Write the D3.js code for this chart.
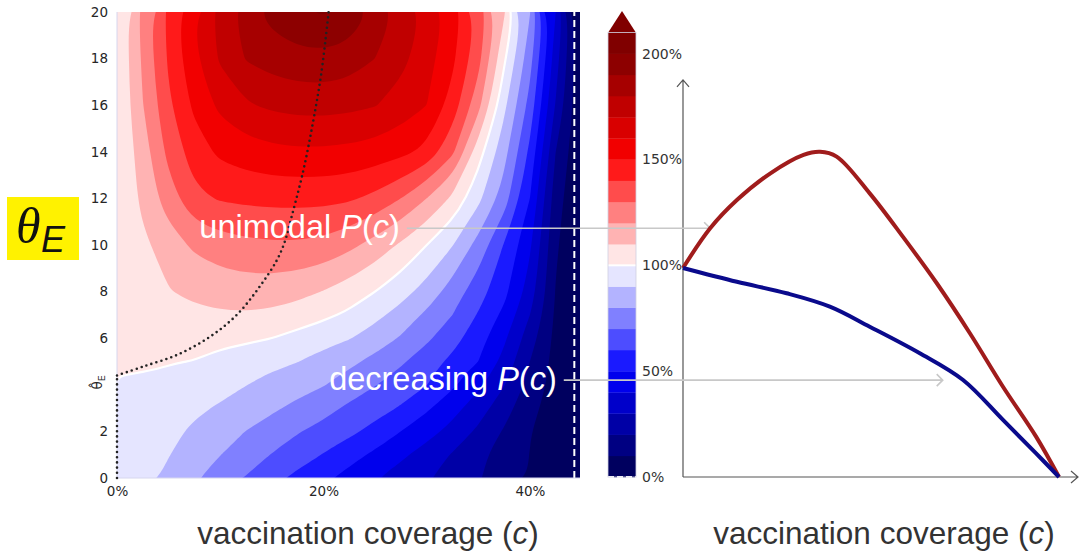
<!DOCTYPE html>
<html>
  <head>
    <meta charset="utf-8">
    <title>P(c) over coverage and theta_E</title>
    <style>
      body { margin: 0; background: #fff; }
      svg { display: block; }
    </style>
  </head>
  <body>
    <script src="https://d3js.org/d3.v7.min.js"></script>
    <svg id="chart" width="1079" height="551"></svg>
    <script>
      // ---- values ----
      // grid columns: vaccination coverage c (%)
      const coverage = [0, 2.5, 5, 7.5, 10, 12.5, 15, 17.5, 20, 22.5, 25, 27.5, 30, 32.5, 35, 37.5, 40, 42.5, 45]
      // grid rows: theta_E
      const thetaRows = [0, 1, 2, 3, 4, 4.4, 5, 6, 7, 8, 10, 12, 14, 16, 18, 20]

      // P(c) / P(0) in %, one row per theta_E
      const p_t0   = [100, 93.8, 87.5, 81.3, 75.2, 69.3, 63.2, 57.4, 52.1, 46.5, 40.7, 35.8, 31.1, 26, 20.8, 15.1, 9.3, 4.7, 0]
      const p_t1   = [100, 95.2, 90.4, 85.3, 80.2, 75.1, 69.6, 64.6, 59.5, 53.9, 48, 42, 35.6, 29.2, 22.4, 16, 9.8, 4.1, 0]
      const p_t2   = [100, 96.2, 92.4, 88.4, 84.1, 79.8, 75.3, 70.7, 66.4, 62.2, 56.8, 50, 43.8, 36.7, 28.1, 19, 10.5, 4.4, 0]
      const p_t3   = [100, 97.3, 94.6, 91.8, 88.9, 85.3, 81.7, 77.5, 73.5, 68.1, 63.8, 59.1, 51.5, 43.5, 34.6, 24.1, 13, 5, 0]
      const p_t4   = [100, 99.5, 98, 95.9, 93.3, 90.2, 87, 83.8, 80.5, 75.6, 70.4, 65.3, 60.2, 51.7, 42, 30.5, 16.3, 5.8, 0]
      const p_t4h  = [100, 99.9, 99, 97.5, 94.8, 92, 89.2, 86.4, 82.8, 78.2, 73.1, 67.7, 62, 54, 45.2, 33, 17.8, 6, 0]
      const p_t5   = [100, 100.4, 100.4, 99.8, 97, 94.8, 92.5, 90.2, 86.3, 82.2, 77.2, 71.4, 64.7, 57.6, 50, 36.9, 20, 6.4, 0]
      const p_t6   = [100, 101.5, 102.5, 103, 102.8, 101.7, 100, 96.8, 93.7, 90.5, 85.1, 79.1, 71.8, 63.7, 54.2, 41.7, 24.6, 7.2, 0]
      const p_t7   = [100, 103, 105.8, 107.8, 108.8, 109, 107.9, 105.5, 102, 98.3, 92.8, 86.1, 78.1, 70, 59.1, 47.5, 30, 8.2, 0]
      const p_t8   = [100, 105, 109.5, 112.3, 114, 114.9, 114.8, 112.9, 109.6, 105, 100, 93.9, 86.1, 75.4, 64.5, 52.9, 35.5, 9.5, 0]
      const p_t10  = [100, 107.8, 115, 121.8, 125.5, 127.6, 128.5, 128.5, 127, 122.5, 116, 108.5, 100, 90.4, 76.3, 59.3, 41.5, 11.4, 0]
      const p_t12  = [100, 112.5, 125.2, 137.4, 141, 142.2, 142.8, 143, 142.8, 141.5, 137.3, 130, 120, 108, 92.7, 75, 50, 14.3, 0]
      const p_t14  = [100, 115.2, 132.8, 145.1, 152.1, 155.3, 157.4, 158.4, 158.3, 157.4, 155.6, 152.9, 147.2, 132, 104.3, 83.6, 57.5, 20, 0]
      const p_t16  = [100, 119.7, 138.1, 152.2, 162.5, 168.8, 171.9, 173.3, 173.5, 172.6, 170.5, 165.6, 160, 145.7, 123.3, 92.5, 66.3, 29.2, 0]
      const p_t18  = [100, 121.8, 141.5, 158.3, 171.5, 180.7, 184.5, 186.7, 187.3, 185.2, 180, 173.1, 164.2, 152.1, 133.6, 101.7, 73.8, 34.5, 0]
      const p_t20  = [100, 123.4, 142.7, 159.7, 173.6, 185.1, 193.9, 199, 201, 198, 187.8, 177.4, 167.8, 155.6, 137.3, 111.3, 80.6, 40, 0]
      const pRows = [p_t0, p_t1, p_t2, p_t3, p_t4, p_t4h, p_t5, p_t6, p_t7, p_t8, p_t10, p_t12, p_t14, p_t16, p_t18, p_t20]

      const levels = d3.range(0, 220, 10)
      const thetaTicks = [0, 2, 6, 8, 10, 12, 14, 16, 18, 20]
      const coverageTicks = [0, 20, 40]
      const colorbarTicks = [0, 50, 100, 150, 200]
      const thetaHat = 4.4
      const cStar = 44.3

      // location of the maximum of P(c), [c, theta_E]
      const argmaxCurve = [[0, 4.4], [2.5, 4.78], [5.8, 5.28], [9, 6.06], [11.6, 7.0], [13.8, 8.2], [15.5, 9.36],
                           [16.3, 10.2], [16.7, 10.86], [18, 13.1], [19, 15.3], [19.8, 17.4], [20.5, 20]]

      // sketch on the right, [c, P %]
      const unimodalCurve = [[0, 100], [3.2, 119], [6.35, 132.5], [10.3, 145.3], [14.2, 154.1], [16.15, 155.6], [18.1, 153.3],
                             [22, 135.7], [25.9, 115], [29.9, 92.7], [33.8, 68.8], [37.7, 43.2], [41.6, 19.3], [44.3, 0]]
      const decreasingCurve = [[0, 100], [6.35, 93.4], [12.2, 87.9], [17.3, 81.5], [22, 71.9], [27.9, 59.2], [33, 46.4],
                               [37.7, 27.3], [41.6, 11.3], [44.3, 0]]

      // ---- drawing ----
      const svg = d3.select('#chart')
      const sans = '"Liberation Sans", Arial, sans-serif'
      const tickFont = '"DejaVu Sans", sans-serif'

      const x = d3.scaleLinear([0, 44.85], [117, 580])
      const y = d3.scaleLinear([0, 20], [478, 12])
      const seismic = d3.scaleLinear([0, 0.25, 0.5, 0.75, 1], ['#00004d', '#0000ff', '#ffffff', '#ff0000', '#800000']).clamp(true)
      const bandColor = lo => seismic((lo + 5) / 200)

      const defs = svg.append('defs')
      defs.append('clipPath').attr('id', 'plot-clip')
        .append('rect')
          .attr('x', x(0)).attr('y', y(20))
          .attr('width', x(44.85) - x(0)).attr('height', y(0) - y(20))
      defs.append('clipPath').attr('id', 'line-clip')
        .append('rect')
          .attr('x', x(0) + 1.5).attr('y', y(20))
          .attr('width', x(44.85) - x(0)).attr('height', y(0) - y(20))

      // filled contours
      const nx = coverage.length, ny = thetaRows.length
      const contours = d3.contours().size([nx, ny]).thresholds(levels)(pRows.flat())
      const gx = d3.scaleLinear([0.5, nx - 0.5], [coverage[0], coverage[nx - 1]])
      const gy = d3.scaleLinear(thetaRows.map((t, i) => i + 0.5), thetaRows)
      const ring = d3.line().curve(d3.curveBasisClosed)
      const toPath = geo => geo.coordinates.map(poly => poly.map(r =>
        ring(r.slice(0, -1).map(([a, b]) => [x(gx(a)), y(gy(b))]))).join('')).join('')

      const field = svg.append('g').attr('clip-path', 'url(#plot-clip)')
      field.selectAll('path')
        .data(contours)
        .join('path')
          .attr('d', toPath)
          .attr('fill', d => bandColor(d.value))
          .attr('fill-rule', 'evenodd')

      // P = 100% contour
      svg.append('g').attr('clip-path', 'url(#line-clip)')
        .append('path')
          .attr('d', toPath(contours.find(d => d.value === 100)))
          .attr('fill', 'none')
          .attr('stroke', '#fff')
          .attr('stroke-width', 2.2)

      // c* dashed line
      svg.append('line')
        .attr('x1', x(cStar)).attr('x2', x(cStar))
        .attr('y1', y(0)).attr('y2', y(20))
        .attr('stroke', '#fff').attr('stroke-width', 2)
        .attr('stroke-dasharray', '7 4')

      svg.append('path')
        .attr('d', `M${x(0)},${y(20)}V${y(0)}H${x(44.85)}`)
        .attr('fill', 'none').attr('stroke', '#d6d6ee').attr('stroke-width', 1)

      // dotted argmax line and theta hat
      const dotted = g => g.attr('fill', 'none').attr('stroke', '#222').attr('stroke-width', 2.6)
        .attr('stroke-linecap', 'round').attr('stroke-dasharray', '0 5.2')
      svg.append('path')
        .attr('d', d3.line()([[x(0), y(0)], [x(0), y(thetaHat)]]))
        .call(dotted)
      svg.append('path')
        .attr('d', d3.line().x(d => x(d[0])).y(d => y(d[1])).curve(d3.curveCatmullRom.alpha(0.5))(argmaxCurve))
        .call(dotted)

      // axes of the left panel
      const yAxis = svg.append('g')
        .attr('transform', `translate(${x(0)},0)`)
        .call(d3.axisLeft(y).tickValues(thetaTicks).tickSize(0).tickPadding(9))
      yAxis.select('.domain').remove()
      yAxis.attr('font-size', 13.5).attr('font-family', tickFont).attr('color', '#262626')

      const xAxis = svg.append('g')
        .attr('transform', `translate(0,${y(0)})`)
        .call(d3.axisBottom(x).tickValues(coverageTicks).tickFormat(d => d + '%').tickSize(0).tickPadding(8))
      xAxis.select('.domain').remove()
      xAxis.attr('font-size', 13.5).attr('font-family', tickFont).attr('color', '#262626')

      const hat = svg.append('text')
        .attr('transform', `translate(${x(0) - 15},${y(thetaHat) + 7}) rotate(-90)`)
        .attr('text-anchor', 'middle')
        .attr('font-family', tickFont).attr('font-size', 13.5).attr('fill', '#262626')
      hat.append('tspan').text('\u03b8\u0302')
      hat.append('tspan').text('E').attr('font-size', 9.5).attr('dy', 3)

      // theta_E badge
      svg.append('rect').attr('x', 7).attr('y', 197).attr('width', 72).attr('height', 63).attr('fill', '#fff200')
      svg.append('text').text('\u03b8')
        .attr('x', 16).attr('y', 243)
        .attr('font-family', '"Liberation Serif", serif').attr('font-style', 'italic')
        .attr('font-size', 50).attr('fill', '#111')
      svg.append('text').text('E')
        .attr('x', 41).attr('y', 252)
        .attr('font-family', sans).attr('font-style', 'italic')
        .attr('font-size', 36).attr('fill', '#111')

      // colorbar
      const yCb = d3.scaleLinear([0, 210], [477, 32.5])
      const cbX = 608, cbW = 28
      const cb = svg.append('g')
      cb.selectAll('rect')
        .data(levels.slice(0, -1))
        .join('rect')
          .attr('x', cbX).attr('width', cbW)
          .attr('y', d => yCb(d + 10)).attr('height', d => yCb(d) - yCb(d + 10) + 0.3)
          .attr('fill', d => bandColor(d))
      cb.append('path')
        .attr('d', `M${cbX},${yCb(210) + 0.3}L${cbX + cbW / 2},${yCb(210) - 21.5}L${cbX + cbW},${yCb(210) + 0.3}Z`)
        .attr('fill', bandColor(210))
      cb.append('line')
        .attr('x1', cbX).attr('x2', cbX + cbW).attr('y1', yCb(100)).attr('y2', yCb(100))
        .attr('stroke', '#fff').attr('stroke-width', 2)
      cb.append('line')
        .attr('x1', cbX).attr('x2', cbX + cbW).attr('y1', yCb(0)).attr('y2', yCb(0))
        .attr('stroke', '#fff').attr('stroke-width', 2).attr('stroke-dasharray', '6 3')
      cb.append('rect')
        .attr('x', cbX).attr('y', yCb(210)).attr('width', cbW).attr('height', yCb(0) - yCb(210))
        .attr('fill', 'none').attr('stroke', '#d0d0e0').attr('stroke-width', 0.8)
      const cbAxis = svg.append('g')
        .attr('transform', `translate(${cbX + cbW},0)`)
        .call(d3.axisRight(yCb).tickValues(colorbarTicks).tickFormat(d => d + '%').tickSize(0).tickPadding(6))
      cbAxis.select('.domain').remove()
      cbAxis.attr('font-size', 14).attr('font-family', tickFont).attr('color', '#333')

      // right-hand sketch
      const xR = d3.scaleLinear([0, cStar], [683, 1059])
      const yR = d3.scaleLinear([0, 100], [477, 268])
      const axisG = svg.append('g').attr('fill', 'none').attr('stroke', '#555').attr('stroke-width', 1.2)
      axisG.append('path').attr('d', `M${xR(0)},${yR(0)}V${yR(190)}M${xR(0) - 6},${yR(190) + 7}L${xR(0)},${yR(190)}L${xR(0) + 6},${yR(190) + 7}`)
      axisG.append('path').attr('d', `M${xR(0)},${yR(0)}H${xR(cStar) + 19}M${xR(cStar) + 12},${yR(0) - 6}L${xR(cStar) + 19},${yR(0)}L${xR(cStar) + 12},${yR(0) + 6}`)

      // annotation arrows
      const annotations = [
        { name: 'unimodal', theta: 10.72, labelC: 27.4, endC: 3.2 },
        { name: 'decreasing', theta: 4.2, labelC: 42.6, endC: 30.6 }
      ]
      annotations.forEach(a => {
        const yy = y(a.theta)
        const t = svg.append('text')
          .attr('x', x(a.labelC)).attr('y', yy + 10)
          .attr('text-anchor', 'end')
          .attr('font-family', sans).attr('font-size', 32.5).attr('fill', '#fff')
        t.append('tspan').text(a.name + ' ')
        t.append('tspan').text('P').attr('font-style', 'italic')
        t.append('tspan').text('(')
        t.append('tspan').text('c').attr('font-style', 'italic')
        t.append('tspan').text(')')
        const x0 = x(a.labelC) + 7, x1 = xR(a.endC)
        svg.append('path')
          .attr('d', `M${x0},${yy}H${x1}M${x1 - 6},${yy - 6}L${x1},${yy}L${x1 - 6},${yy + 6}`)
          .attr('fill', 'none').attr('stroke', '#c8c8c8').attr('stroke-width', 1.6)
      })

      const sketch = d3.line().x(d => xR(d[0])).y(d => yR(d[1])).curve(d3.curveCatmullRom.alpha(0.5))
      svg.append('path').attr('d', sketch(unimodalCurve))
        .attr('fill', 'none').attr('stroke', '#a01c1c').attr('stroke-width', 4).attr('stroke-linejoin', 'round')
      svg.append('path').attr('d', sketch(decreasingCurve))
        .attr('fill', 'none').attr('stroke', '#0a0a8c').attr('stroke-width', 4).attr('stroke-linejoin', 'round')

      // axis titles
      ;[368, 884].forEach(cx => {
        const t = svg.append('text')
          .attr('x', cx).attr('y', 544)
          .attr('text-anchor', 'middle')
          .attr('font-family', sans).attr('font-size', 31.5).attr('fill', '#333')
        t.append('tspan').text('vaccination coverage (')
        t.append('tspan').text('c').attr('font-style', 'italic')
        t.append('tspan').text(')')
      })
    </script>
  </body>
</html>
